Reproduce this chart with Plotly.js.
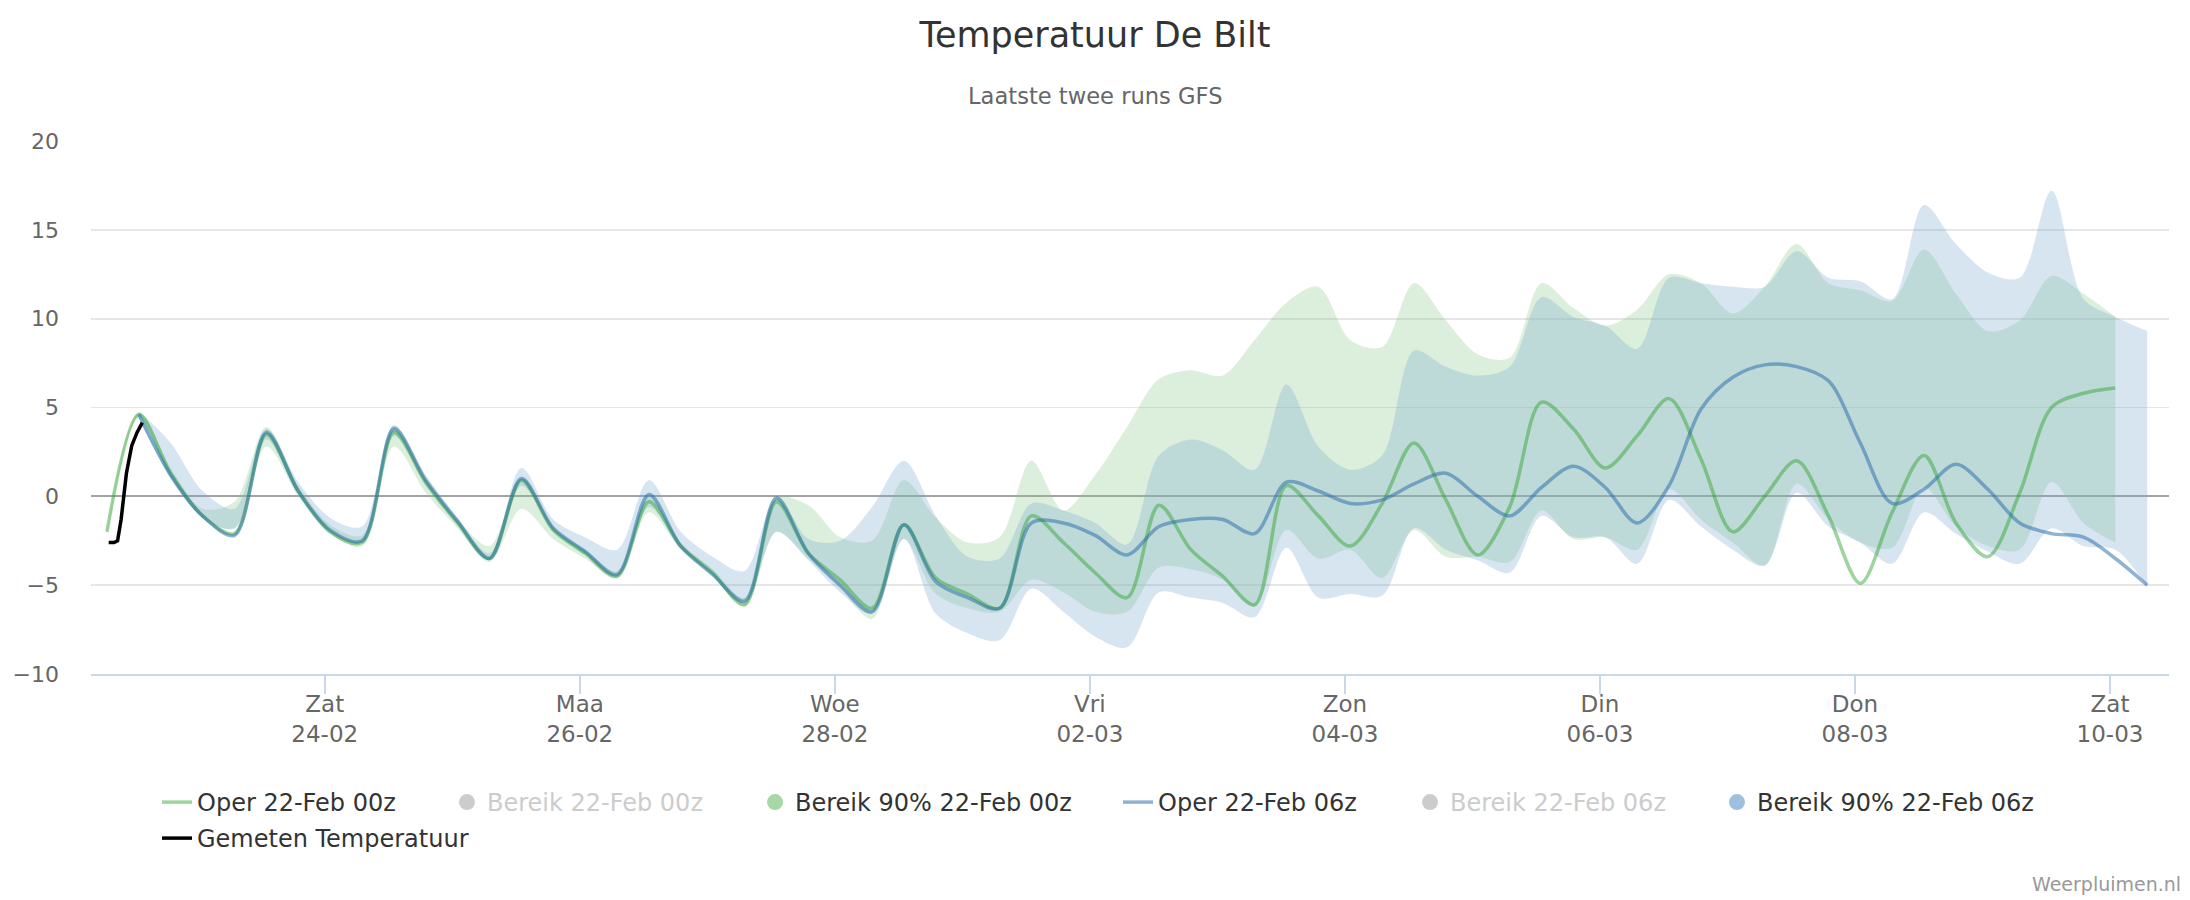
<!DOCTYPE html>
<html>
<head>
<meta charset="utf-8">
<script src="https://cdn.plot.ly/plotly-3.0.1.min.js"></script>
<style>
  html, body { margin: 0; padding: 0; background: #ffffff; }
  #chart { width: 2190px; height: 900px; }
</style>
</head>
<body>
<div id="chart"></div>
<script>
// ---- Data (6-hourly, local time) ----
// Run 22-Feb 00z: first value 22-02 07:00, 64 values
const run00Start = '2018-02-22 07:00';
// Run 22-Feb 06z: first value 22-02 13:00, 64 values
const run06Start = '2018-02-22 13:00';
const stepHours = 6;

const oper00 = [-2.0, 4.6, 1.3, -1.1, -2.1, 3.5, 0.3, -2.0, -2.6, 3.6,
  0.8, -1.5, -3.5, 0.9, -1.9, -3.2, -4.5, -0.3, -2.8, -4.3,
  -6.1, -0.3, -3.2, -4.7, -6.3, -1.6, -4.6, -5.5, -6.3, -1.1,
  -2.6, -4.3, -5.7, -0.5, -3.0, -4.5, -6.1, 0.6, -1.1, -2.8,
  -0.4, 3.0, -0.2, -3.3, -0.6, 5.3, 3.8, 1.6, 3.4, 5.5,
  2.1, -2.0, 0.0, 2.0, -1.1, -4.9, -0.9, 2.3, -1.5, -3.4,
  0.2, 5.0, 5.8, 6.1];

const low90_00 = [-2.1, 4.4, 1.0, -1.2, -1.8, 2.8, 0.0, -2.1, -2.8, 2.8,
  0.2, -1.8, -3.7, -0.7, -2.4, -3.5, -4.6, -0.9, -3.0, -4.5,
  -6.2, -2.0, -3.5, -5.2, -6.9, -2.4, -5.5, -6.3, -6.5, -4.7,
  -5.4, -6.5, -6.5, -4.0, -4.1, -4.7, -6.2, -1.9, -3.5, -3.0,
  -4.6, -1.9, -3.4, -3.4, -3.7, -0.8, -2.4, -2.3, -3.0, 0.4,
  -1.3, -2.6, -3.9, 0.7, -1.3, -2.6, -2.9, 0.5, -1.7, -2.8,
  -3.0, 0.8, -1.5, -2.6];

const high90_00 = [-1.9, 4.7, 1.6, -0.7, -0.3, 3.9, 0.6, -1.6, -2.2, 4.0,
  0.9, -1.3, -2.8, 1.0, -1.7, -3.0, -4.2, 0.1, -2.6, -4.1,
  -5.7, -0.1, -0.5, -2.3, -2.5, 0.9, -1.2, -2.6, -2.3, 2.0,
  -0.8, 1.2, 3.9, 6.6, 7.1, 6.8, 8.8, 10.9, 11.8, 8.8,
  8.4, 12.0, 9.9, 8.0, 7.8, 12.0, 10.6, 9.6, 10.5, 12.5,
  12.0, 10.3, 11.8, 14.2, 12.0, 11.6, 11.0, 13.9, 11.4, 9.3,
  9.9, 12.4, 11.4, 10.1];

const oper06 = [4.6, 1.2, -1.1, -2.2, 3.6, 0.3, -1.9, -2.5, 3.8, 0.9,
  -1.4, -3.5, 1.0, -1.8, -3.1, -4.4, 0.1, -2.8, -4.4, -5.9,
  -0.1, -3.2, -5.0, -6.5, -1.6, -4.8, -5.7, -6.3, -1.5, -1.5,
  -2.2, -3.3, -1.7, -1.3, -1.3, -2.1, 0.8, 0.3, -0.4, -0.2,
  0.7, 1.3, 0.0, -1.1, 0.5, 1.7, 0.5, -1.5, 0.6, 4.9,
  6.7, 7.4, 7.3, 6.5, 3.0, -0.4, 0.4, 1.8, 0.4, -1.5,
  -2.1, -2.3, -3.5, -5.0];

const low90_06 = [4.4, 1.0, -1.2, -1.8, 3.2, 0.1, -2.0, -2.6, 3.4, 0.6,
  -1.6, -3.6, 0.6, -1.9, -3.3, -4.5, -0.6, -2.9, -4.4, -6.0,
  -2.0, -3.6, -5.4, -6.6, -2.4, -6.6, -7.7, -8.1, -5.2, -6.5,
  -7.9, -8.5, -5.4, -5.7, -6.0, -6.8, -2.9, -5.7, -5.5, -5.6,
  -1.8, -3.0, -3.6, -4.3, -1.1, -2.3, -2.3, -3.8, -0.2, -1.7,
  -3.0, -3.9, 0.2, -1.7, -2.6, -3.8, -0.9, -2.1, -3.1, -3.8,
  -1.8, -2.8, -3.0, -5.1];

const high90_06 = [4.8, 3.0, 0.3, -0.7, 3.8, 0.8, -1.2, -1.7, 4.0, 1.2,
  -1.2, -3.2, 1.6, -1.3, -2.3, -3.0, 0.9, -2.0, -3.4, -4.2,
  0.0, -2.4, -2.5, -0.6, 2.0, -1.1, -3.4, -3.5, -0.4, -0.8,
  -1.5, -2.7, 2.3, 3.2, 2.6, 1.5, 6.3, 2.8, 1.5, 2.3,
  8.2, 7.3, 6.8, 7.3, 11.2, 10.1, 9.6, 8.3, 12.3, 12.0,
  11.8, 11.8, 13.8, 12.3, 12.1, 11.1, 16.4, 14.2, 12.6, 12.3,
  17.2, 11.1, 10.1, 9.3];

const measuredTimes = ['2018-02-22 07:20', '2018-02-22 08:20', '2018-02-22 09:00',
  '2018-02-22 09:40', '2018-02-22 10:40', '2018-02-22 11:40', '2018-02-22 12:40', '2018-02-22 13:40'];
const measuredValues = [-2.6, -2.6, -2.5, -1.3, 1.3, 2.85, 3.6, 4.15];

const tickDates = ['2018-02-24', '2018-02-26', '2018-02-28', '2018-03-02',
  '2018-03-04', '2018-03-06', '2018-03-08', '2018-03-10'];
const tickDays = ['Zat', 'Maa', 'Woe', 'Vri', 'Zon', 'Din', 'Don', 'Zat'];
const tickLabels = ['24-02', '26-02', '28-02', '02-03', '04-03', '06-03', '08-03', '10-03'];

// ---- helpers ----
function timeAxis(start, n) {
  const p = start.split(/[- :]/).map(Number);
  const t0 = Date.UTC(p[0], p[1] - 1, p[2], p[3], p[4]);
  const out = [];
  for (let i = 0; i < n; i++) {
    out.push(new Date(t0 + i * stepHours * 3600e3).toISOString().slice(0, 16).replace('T', ' '));
  }
  return out;
}
const t00 = timeAxis(run00Start, oper00.length);
const t06 = timeAxis(run06Start, oper06.length);

const FONT = 'DejaVu Sans';
const greenFill = 'rgba(138,202,138,0.30)';
const blueFill = 'rgba(122,168,208,0.30)';
const greenLine = 'rgba(40,160,40,0.45)';
const blueLine = 'rgba(40,110,170,0.52)';
const SM = 0.9;

const traces = [
  // Bereik 90% 00z band
  { x: t00, y: low90_00, type: 'scatter', mode: 'lines', line: { width: 0, shape: 'spline', smoothing: SM },
    showlegend: false, hoverinfo: 'skip' },
  { x: t00, y: high90_00, type: 'scatter', mode: 'lines', line: { width: 0, shape: 'spline', smoothing: SM },
    fill: 'tonexty', fillcolor: greenFill, showlegend: false, hoverinfo: 'skip' },
  // Bereik 90% 06z band
  { x: t06, y: low90_06, type: 'scatter', mode: 'lines', line: { width: 0, shape: 'spline', smoothing: SM },
    showlegend: false, hoverinfo: 'skip' },
  { x: t06, y: high90_06, type: 'scatter', mode: 'lines', line: { width: 0, shape: 'spline', smoothing: SM },
    fill: 'tonexty', fillcolor: blueFill, showlegend: false, hoverinfo: 'skip' },
  // Oper lines
  { x: t00, y: oper00, type: 'scatter', mode: 'lines', name: 'Oper 22-Feb 00z', legend: 'legend',
    line: { color: greenLine, width: 3.5, shape: 'spline', smoothing: SM } },
  { x: t06, y: oper06, type: 'scatter', mode: 'lines', name: 'Oper 22-Feb 06z', legend: 'legend4',
    line: { color: blueLine, width: 3.5, shape: 'spline', smoothing: SM } },
  // legend-only entries
  { x: [null], y: [null], type: 'scatter', mode: 'markers', name: '<span style="color:#cccccc">Bereik 22-Feb 00z</span>',
    legend: 'legend2', marker: { color: '#cccccc', size: 16 } },
  { x: [null], y: [null], type: 'scatter', mode: 'markers', name: 'Bereik 90% 22-Feb 00z',
    legend: 'legend3', marker: { color: '#a6d7a6', size: 16 } },
  { x: [null], y: [null], type: 'scatter', mode: 'markers', name: '<span style="color:#cccccc">Bereik 22-Feb 06z</span>',
    legend: 'legend5', marker: { color: '#cccccc', size: 16 } },
  { x: [null], y: [null], type: 'scatter', mode: 'markers', name: 'Bereik 90% 22-Feb 06z',
    legend: 'legend6', marker: { color: '#9dc0df', size: 16 } },
  // Measured
  { x: measuredTimes, y: measuredValues, type: 'scatter', mode: 'lines', name: 'Gemeten Temperatuur', legend: 'legend7',
    line: { color: '#000000', width: 3.5 } }
];

// legend positions (real px of text start) -> paper coords
const plotL = 91, plotW = 2078, plotB = 674, plotH = 533;
function legendAt(textStartPx, rowCenterPx) {
  return {
    x: (textStartPx - 40 - plotL) / plotW, xanchor: 'left',
    y: (plotB - (rowCenterPx - 23)) / plotH, yanchor: 'top',
    orientation: 'h', bgcolor: 'rgba(0,0,0,0)', borderwidth: 0,
    font: { family: FONT, size: 24, color: '#333333' }
  };
}

const layout = {
  width: 2190, height: 900,
  margin: { l: 91, r: 21, t: 141, b: 226 },
  paper_bgcolor: '#ffffff', plot_bgcolor: '#ffffff',
  font: { family: FONT, color: '#333333' },
  title: { text: 'Temperatuur De Bilt', x: 0.5, xref: 'container', xanchor: 'center',
    y: 0.961, yref: 'container', yanchor: 'middle', font: { family: FONT, size: 35, color: '#333333' } },
  xaxis: {
    type: 'date', range: ['2018-02-22 04:00', '2018-03-10 11:06'],
    tickvals: tickDates, ticktext: tickDays.map((d, i) => d + '<br>' + tickLabels[i]),
    showgrid: false, zeroline: false, showline: true, linecolor: '#ccd6eb', linewidth: 2,
    ticks: 'outside', ticklen: 18, tickwidth: 2, tickcolor: '#ccd6eb', ticklabelstandoff: -10,
    tickfont: { family: FONT, size: 23, color: '#666666' }, fixedrange: true
  },
  yaxis: {
    range: [-10, 20], dtick: 5, tick0: 0, showgrid: true, gridcolor: '#e6e6e6', gridwidth: 1.8,
    zeroline: true, zerolinecolor: '#a3a3a3', zerolinewidth: 2, showline: false, ticks: '',
    ticklabelstandoff: 31,
    tickfont: { family: FONT, size: 22, color: '#666666' }, fixedrange: true
  },
  legend: legendAt(197, 803),
  legend2: legendAt(487, 803),
  legend3: legendAt(795, 803),
  legend4: legendAt(1158, 803),
  legend5: legendAt(1450, 803),
  legend6: legendAt(1757, 803),
  legend7: legendAt(197, 839),
  annotations: [
    { text: 'Laatste twee runs GFS', xref: 'paper', yref: 'paper', x: 0.4832, y: 1.0844,
      xanchor: 'center', yanchor: 'middle', showarrow: false, font: { family: FONT, size: 22.6, color: '#666666' } },
    { text: 'Weerpluimen.nl', xref: 'paper', yref: 'paper', x: 1.0067, y: -0.394,
      xanchor: 'right', yanchor: 'middle', showarrow: false, font: { family: FONT, size: 19, color: '#999999' } }
  ],
  showlegend: true
};

Plotly.newPlot('chart', traces, layout, { displayModeBar: false, staticPlot: true });
</script>
</body>
</html>
